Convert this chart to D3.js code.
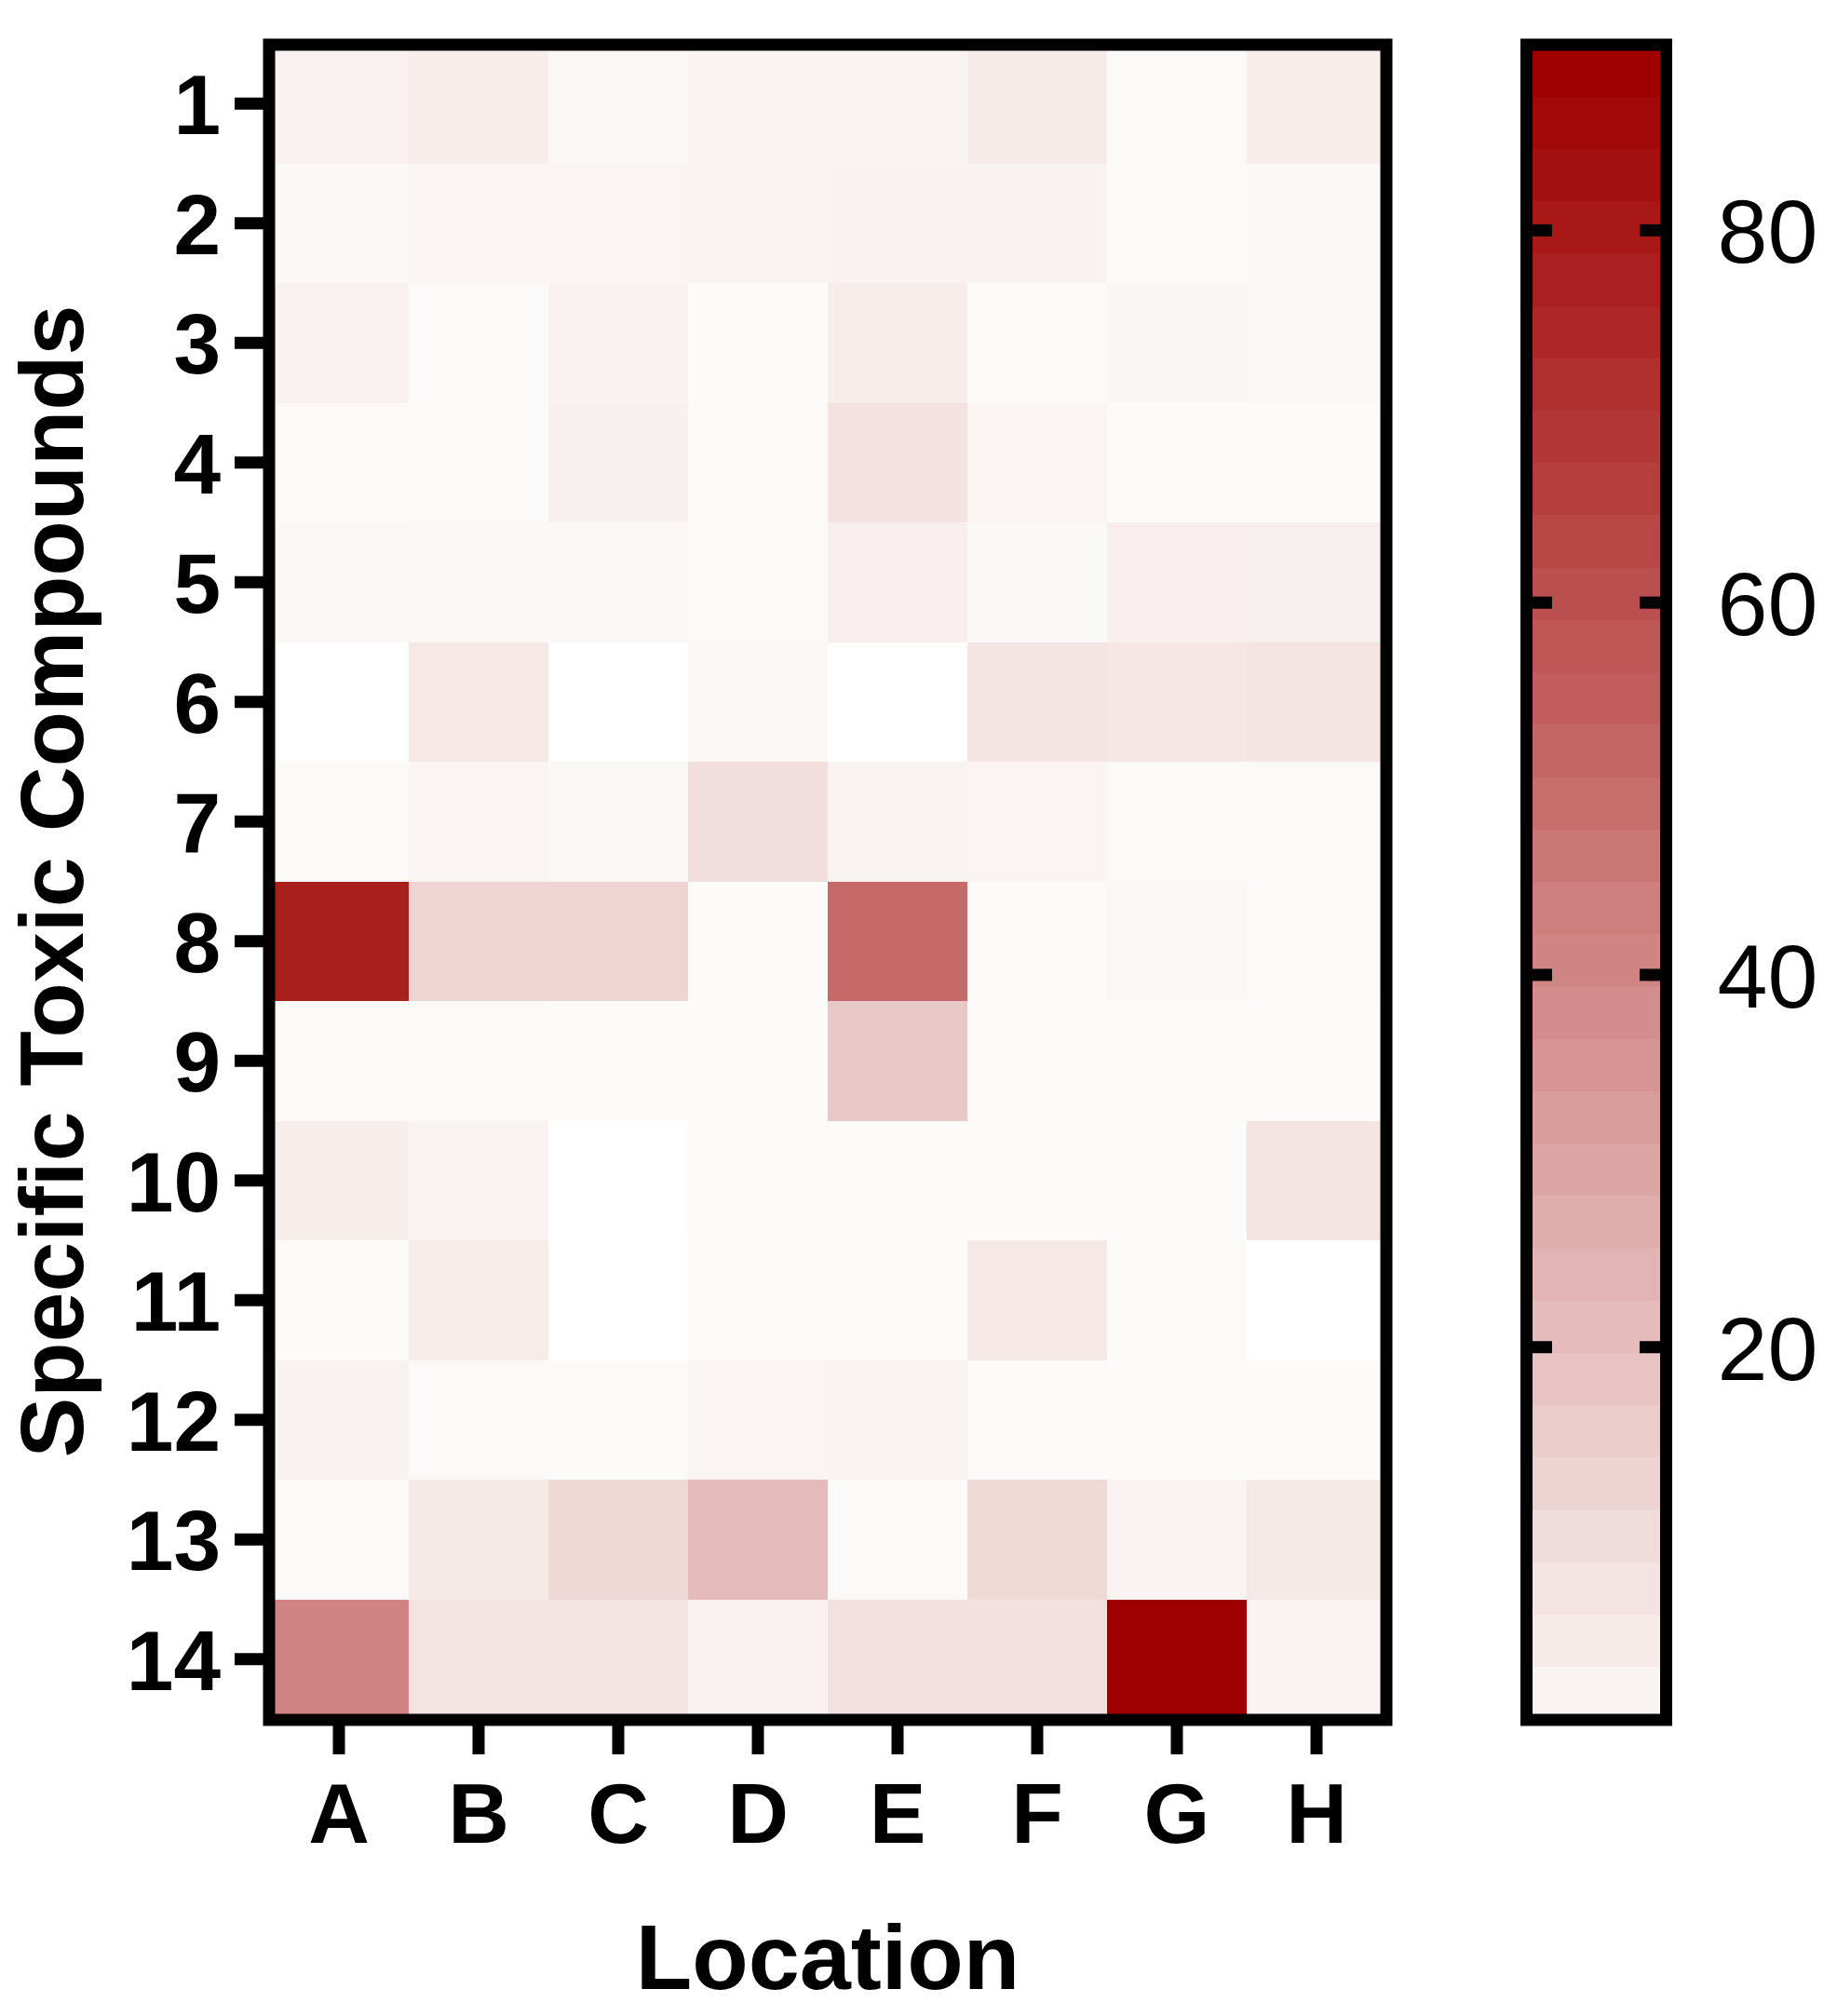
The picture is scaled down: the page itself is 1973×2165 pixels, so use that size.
<!DOCTYPE html>
<html>
<head>
<meta charset="utf-8">
<script src="https://cdn.jsdelivr.net/npm/d3@7"></script>
<style>
  html, body { margin: 0; padding: 0; background: #ffffff; }
  svg { display: block; }
</style>
</head>
<body>
<script>
// ---- data ----
const locations = ["A", "B", "C", "D", "E", "F", "G", "H"];
const compounds = ["1", "2", "3", "4", "5", "6", "7", "8", "9", "10", "11", "12", "13", "14"];
// values per compound (rows), columns A..H ; null = empty (white)
const row1  = [3.6, 4.7, 1.4, 2.5, 2.9, 5.7, 0.4, 4.7];
const row2  = [1.0, 2.0, 2.0, 2.5, 3.2, 3.4, 0.5, 0.7];
const row3  = [3.6, 0.3, 3.3, 0.0, 5.5, 0.3, 1.8, 1.4];
const row4  = [0.0, 0.3, 3.8, 0.3, 9.0, 2.2, 0.0, 0.0];
const row5  = [1.5, 1.0, 0.6, 0.3, 4.5, 0.6, 4.5, 4.4];
const row6  = [null, 6.8, null, 1.5, null, 7.8, 7.2, 7.8];
const row7  = [0.3, 2.3, 1.6, 10.0, 2.8, 2.2, 0.3, 0.3];
const row8  = [79, 13.5, 13.5, 0.0, 52, 0.0, 1.6, 0.3];
const row9  = [0.3, 0.3, 0.0, 0.0, 18, 0.0, 0.3, 0.0];
const row10 = [5.0, 2.9, null, 0.0, 0.0, 0.0, 0.0, 8.0];
const row11 = [0.0, 5.5, null, 0.3, 0.0, 6.8, 0.5, null];
const row12 = [3.4, 0.3, 0.5, 2.2, 2.6, 0.5, 0.0, 0.0];
const row13 = [0.5, 6.2, 12.5, 23, 0.5, 12, 2.8, 6.2];
const row14 = [43, 8.6, 8.6, 3.6, 9.2, 9.2, 90, 2.8];
const values = [row1, row2, row3, row4, row5, row6, row7, row8, row9, row10, row11, row12, row13, row14];

const colorTicks = [20, 40, 60, 80];
const colorDomain = [0, 90];
const colorBands = 32;

// ---- layout ----
const W = 1973, H = 2165;
const gx0 = 289, gx1 = 1489, gy0 = 47, gy1 = 1846;
const cbx0 = 1639.5, cbx1 = 1789.5;
const frameW = 13;

const svg = d3.select("body").append("svg")
  .attr("width", W).attr("height", H)
  .attr("viewBox", `0 0 ${W} ${H}`);

const x = d3.scaleBand().domain(locations).range([gx0, gx1]).padding(0);
const y = d3.scaleBand().domain(compounds).range([gy0, gy1]).padding(0);
const color = d3.scaleLinear().domain(colorDomain).range(["#FCFBF9", "#9E0000"]).interpolate(d3.interpolateRgb).clamp(true);

const cells = [];
compounds.forEach((c, i) => locations.forEach((l, j) => cells.push({c, l, v: values[i][j]})));

svg.append("g").selectAll("rect").data(cells).join("rect")
  .attr("x", d => x(d.l))
  .attr("y", d => y(d.c))
  .attr("width", x.bandwidth() + 0.5)
  .attr("height", y.bandwidth() + 0.5)
  .attr("fill", d => d.v === null ? "#FFFFFF" : color(d.v))
  .attr("shape-rendering", "crispEdges");

// axes
const fontFam = "'Liberation Sans', Arial, Helvetica, sans-serif";

const yAxis = d3.axisLeft(y).tickSize(37).tickSizeOuter(0).tickPadding(15);
const gy = svg.append("g").attr("transform", `translate(${gx0},0)`).call(yAxis);
gy.select(".domain").remove();
gy.selectAll(".tick line").attr("stroke", "#000").attr("stroke-width", 13);
gy.selectAll(".tick text")
  .attr("font-family", fontFam).attr("font-weight", "bold").attr("font-size", 91)
  .attr("fill", "#000").attr("dy", "0.36em");

const xAxis = d3.axisBottom(x).tickSize(38).tickSizeOuter(0).tickPadding(0);
const gxa = svg.append("g").attr("transform", `translate(0,${gy1})`).call(xAxis);
gxa.select(".domain").remove();
gxa.selectAll(".tick line").attr("stroke", "#000").attr("stroke-width", 13);
gxa.selectAll(".tick text")
  .attr("font-family", fontFam).attr("font-weight", "bold").attr("font-size", 91)
  .attr("fill", "#000").attr("dy", null).attr("y", 133);

// frame
svg.append("rect")
  .attr("x", gx0).attr("y", gy0 + 1)
  .attr("width", gx1 - gx0).attr("height", gy1 - gy0)
  .attr("fill", "none").attr("stroke", "#000").attr("stroke-width", frameW);

// titles
svg.append("text")
  .attr("x", (gx0 + gx1) / 2).attr("y", 2136)
  .attr("text-anchor", "middle")
  .attr("font-family", fontFam).attr("font-weight", "bold").attr("font-size", 99)
  .attr("fill", "#000")
  .text("Location");

svg.append("text")
  .attr("transform", `translate(89,${(gy0 + gy1) / 2}) rotate(-90)`)
  .attr("text-anchor", "middle")
  .attr("font-family", fontFam).attr("font-weight", "bold").attr("font-size", 97)
  .attr("fill", "#000")
  .text("Specific Toxic Compounds");

// colour bar
const cy = d3.scaleLinear().domain(colorDomain).range([gy1, gy0]);
const step = (colorDomain[1] - colorDomain[0]) / colorBands;
const bands = d3.range(colorBands).map(i => ({lo: colorDomain[0] + i * step, hi: colorDomain[0] + (i + 1) * step}));
svg.append("g").selectAll("rect").data(bands).join("rect")
  .attr("x", cbx0).attr("width", cbx1 - cbx0)
  .attr("y", d => cy(d.hi))
  .attr("height", d => cy(d.lo) - cy(d.hi) + 0.5)
  .attr("fill", d => color(d.hi))
  .attr("shape-rendering", "crispEdges");

const cbRight = d3.axisRight(cy).tickValues(colorTicks).tickSize(-28.5).tickSizeOuter(0).tickPadding(55);
const gcr = svg.append("g").attr("transform", `translate(${cbx1},0)`).call(cbRight);
gcr.select(".domain").remove();
gcr.selectAll(".tick line").attr("stroke", "#000").attr("stroke-width", 13);
gcr.selectAll(".tick text")
  .attr("font-family", fontFam).attr("font-weight", "normal").attr("font-size", 97)
  .attr("fill", "#000").attr("dy", "0.36em");

const cbLeft = d3.axisLeft(cy).tickValues(colorTicks).tickSize(-27.5).tickSizeOuter(0).tickFormat("");
const gcl = svg.append("g").attr("transform", `translate(${cbx0},0)`).call(cbLeft);
gcl.select(".domain").remove();
gcl.selectAll(".tick line").attr("stroke", "#000").attr("stroke-width", 13);

svg.append("rect")
  .attr("x", cbx0).attr("y", gy0 + 1)
  .attr("width", cbx1 - cbx0).attr("height", gy1 - gy0)
  .attr("fill", "none").attr("stroke", "#000").attr("stroke-width", frameW);
</script>
</body>
</html>
